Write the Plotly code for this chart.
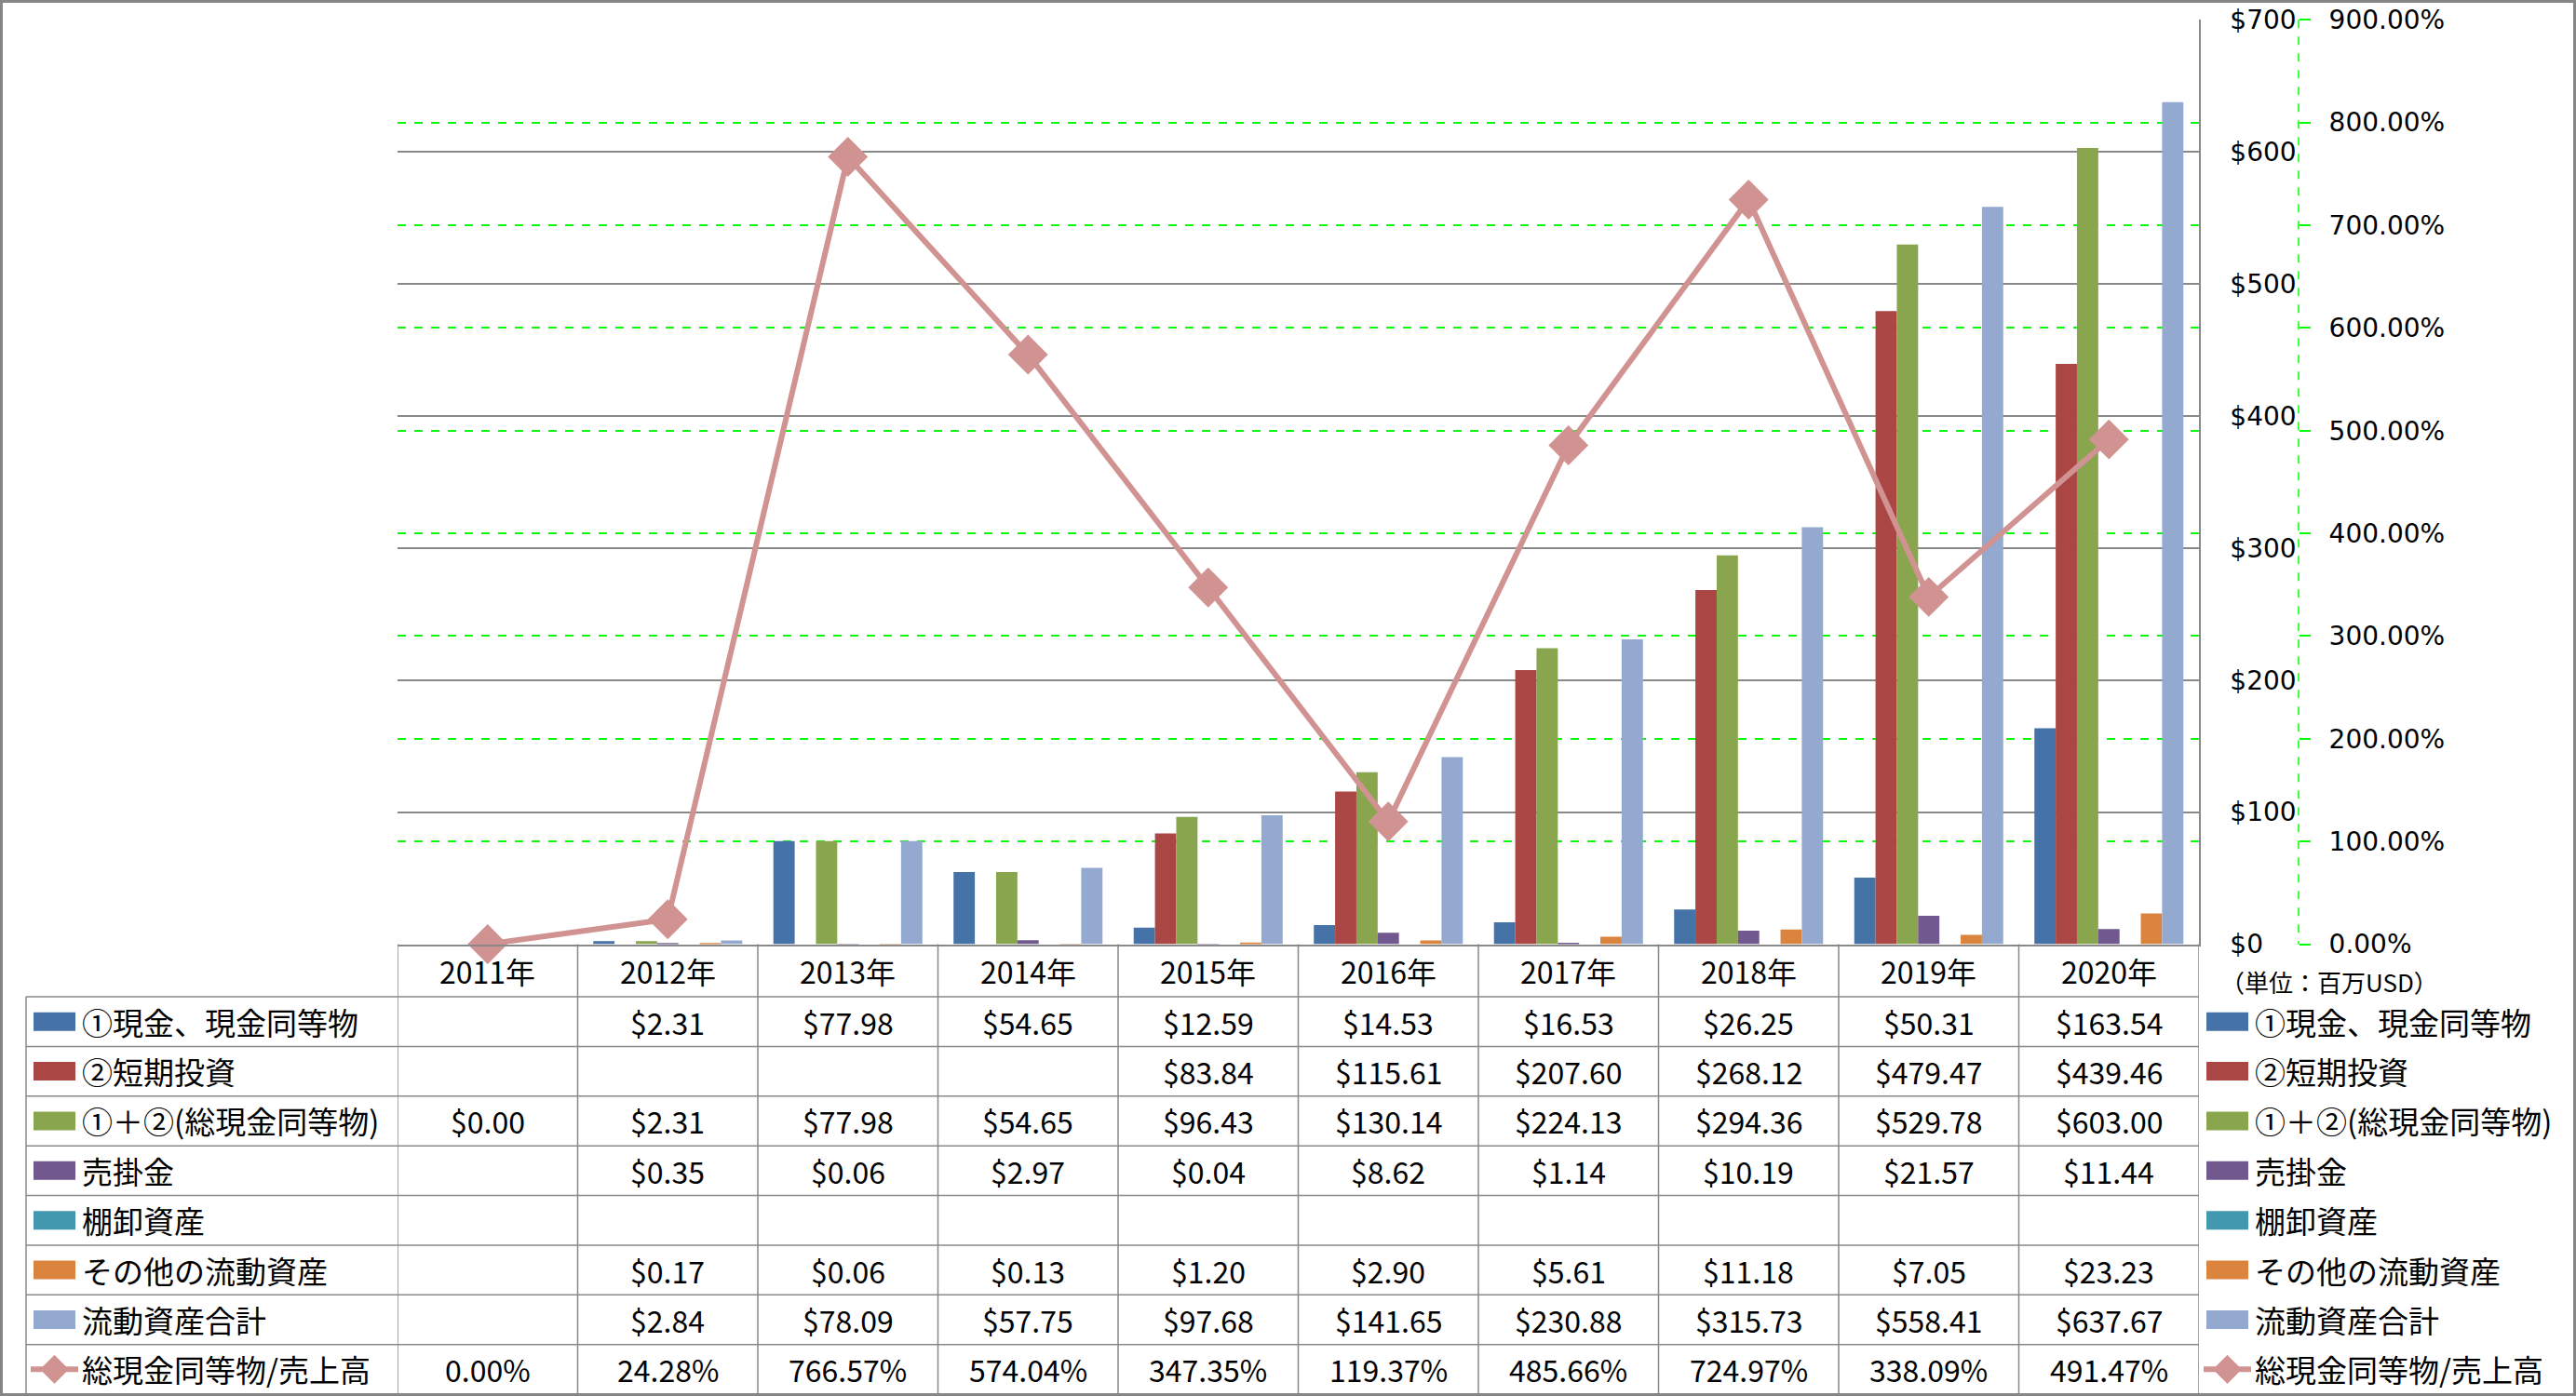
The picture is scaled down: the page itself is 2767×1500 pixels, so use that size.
import plotly.graph_objects as go

W, H = 2767, 1500

# ---------------- data ----------------
years = ["2011年", "2012年", "2013年", "2014年", "2015年",
         "2016年", "2017年", "2018年", "2019年", "2020年"]
cash = [None, 2.31, 77.98, 54.65, 12.59, 14.53, 16.53, 26.25, 50.31, 163.54]
short_inv = [None, None, None, None, 83.84, 115.61, 207.60, 268.12, 479.47, 439.46]
total_cash = [0.00, 2.31, 77.98, 54.65, 96.43, 130.14, 224.13, 294.36, 529.78, 603.00]
receivables = [None, 0.35, 0.06, 2.97, 0.04, 8.62, 1.14, 10.19, 21.57, 11.44]
inventory = [None, None, None, None, None, None, None, None, None, None]
other_cur = [None, 0.17, 0.06, 0.13, 1.20, 2.90, 5.61, 11.18, 7.05, 23.23]
total_cur = [None, 2.84, 78.09, 57.75, 97.68, 141.65, 230.88, 315.73, 558.41, 637.67]
ratio_pct = [0.00, 24.28, 766.57, 574.04, 347.35, 119.37, 485.66, 724.97, 338.09, 491.47]

names = ["①現金、現金同等物", "②短期投資", "①＋②(総現金同等物)", "売掛金",
         "棚卸資産", "その他の流動資産", "流動資産合計", "総現金同等物/売上高"]
colors = ["#4572A7", "#AA4643", "#89A54E", "#71588F",
          "#4198AF", "#DB843D", "#93A9CF", "#D19392"]
bar_values = [cash, short_inv, total_cash, receivables, inventory, other_cur, total_cur]

# ---------------- geometry (pixels) ----------------
PLOT_L, PLOT_R, PLOT_T, PLOT_B = 427, 2362, 21.3, 1014.5
TABLE_L = 28
HEADER_B = 1071
ROW_H = 53.375
AX2_X = 2469
GRAY = "#898989"
LINE_COLOR = colors[7]
CJK = "Noto Sans CJK JP"


def px(x):
    return x / W


def py(y):
    return 1 - y / H


fig = go.Figure()

for name, vals, col in zip(names[:7], bar_values, colors[:7]):
    fig.add_trace(go.Bar(x=years, y=vals, name=name, yaxis="y",
                         marker=dict(color=col, line=dict(width=0))))

fig.add_trace(go.Scatter(x=years, y=ratio_pct, name=names[7], yaxis="y2",
                         mode="lines+markers", cliponaxis=False,
                         line=dict(color=LINE_COLOR, width=6),
                         marker=dict(symbol="diamond", size=33, color=LINE_COLOR)))

shapes = []
annotations = []

# dashed axis line for the secondary (percent) axis
shapes.append(dict(type="line", xref="paper", yref="paper",
                   x0=px(AX2_X), x1=px(AX2_X), y0=py(PLOT_T), y1=py(PLOT_B),
                   line=dict(color="#00FF00", width=1.5, dash="dash")))

# ---------------- data table ----------------
n_rows = len(names)
row_tops = [HEADER_B + i * ROW_H for i in range(n_rows + 1)]
TABLE_B = row_tops[-1]

# horizontal lines
for yv in row_tops:
    shapes.append(dict(type="line", xref="paper", yref="paper",
                       x0=px(TABLE_L), x1=px(PLOT_R), y0=py(yv), y1=py(yv),
                       line=dict(color=GRAY, width=1.5)))
# left border of label column
shapes.append(dict(type="line", xref="paper", yref="paper",
                   x0=px(TABLE_L), x1=px(TABLE_L), y0=py(HEADER_B), y1=py(TABLE_B),
                   line=dict(color=GRAY, width=1.5)))
# column borders (category boundaries on the x axis)
for k in range(len(years) + 1):
    shapes.append(dict(type="line", xref="x", yref="paper",
                       x0=k - 0.5, x1=k - 0.5, y0=py(PLOT_B), y1=py(TABLE_B),
                       line=dict(color=GRAY, width=1.5)))

# header row (years)
for yr in years:
    annotations.append(dict(xref="x", yref="paper", x=yr, y=py((PLOT_B + HEADER_B) / 2),
                            text=yr, showarrow=False, xanchor="center", yanchor="middle",
                            font=dict(family=CJK, size=32, color="black")))


def fmt(i, v):
    if v is None:
        return ""
    if i == 7:
        return "%.2f%%" % v
    return "$%.2f" % v


all_rows = bar_values + [ratio_pct]


def add_key(x_left, yc, i):
    col = colors[i]
    if i < 7:
        shapes.append(dict(type="rect", xref="paper", yref="paper",
                           x0=px(x_left), x1=px(x_left + 45), y0=py(yc - 10), y1=py(yc + 10),
                           fillcolor=col, line=dict(width=0)))
    else:
        shapes.append(dict(type="line", xref="paper", yref="paper",
                           x0=px(x_left - 3), x1=px(x_left + 48), y0=py(yc), y1=py(yc),
                           line=dict(color=col, width=6)))
        cx = x_left + 22.5
        path = "M %f,%f L %f,%f L %f,%f L %f,%f Z" % (
            px(cx - 15), py(yc), px(cx), py(yc - 15), px(cx + 15), py(yc), px(cx), py(yc + 15))
        shapes.append(dict(type="path", xref="paper", yref="paper", path=path,
                           fillcolor=col, line=dict(color=col, width=1)))


for i, (name, vals) in enumerate(zip(names, all_rows)):
    yc = row_tops[i] + ROW_H / 2
    # left label in table
    add_key(36, yc, i)
    annotations.append(dict(xref="paper", yref="paper", x=px(86), y=py(yc), text=name,
                            showarrow=False, xanchor="left", yanchor="middle",
                            font=dict(family=CJK, size=33, color="black")))
    # values
    for yr, v in zip(years, vals):
        t = fmt(i, v)
        if t:
            annotations.append(dict(xref="x", yref="paper", x=yr, y=py(yc), text=t,
                                    showarrow=False, xanchor="center", yanchor="middle",
                                    font=dict(family=CJK, size=32, color="black")))
    # right legend
    add_key(2370, yc, i)
    annotations.append(dict(xref="paper", yref="paper", x=px(2420), y=py(yc), text=name,
                            showarrow=False, xanchor="left", yanchor="middle",
                            font=dict(family=CJK, size=33, color="black")))

# unit note
annotations.append(dict(xref="paper", yref="paper", x=px(2383), y=py(1054),
                        text="（単位：百万USD）", showarrow=False,
                        xanchor="left", yanchor="middle",
                        font=dict(family=CJK, size=26, color="black")))

# outer frame
shapes.append(dict(type="rect", xref="paper", yref="paper",
                   x0=px(1.5), x1=px(W - 1.5), y0=py(1.5), y1=py(H - 1.5),
                   line=dict(color="#868686", width=3), fillcolor="rgba(0,0,0,0)"))

tickfont = dict(family="DejaVu Sans", size=28, color="black")

fig.update_layout(
    width=W, height=H,
    margin=dict(l=0, r=0, t=0, b=0, autoexpand=False),
    paper_bgcolor="white", plot_bgcolor="white",
    showlegend=False,
    barmode="group", bargap=0.173, bargroupgap=0,
    xaxis=dict(domain=[px(PLOT_L), px(PLOT_R)], type="category", automargin=False,
               range=[-0.5, len(years) - 0.5],
               showticklabels=False, ticks="", showgrid=False, zeroline=False,
               showline=True, linecolor=GRAY, linewidth=1.5),
    yaxis=dict(domain=[py(PLOT_B), py(PLOT_T)], range=[0, 700], dtick=100,
               tickprefix="$", tickformat="d", side="right", automargin=False,
               showline=True, linecolor=GRAY, linewidth=1.5,
               showgrid=True, gridcolor=GRAY, gridwidth=1.5, zeroline=False,
               ticks="", ticklabelstandoff=26, tickfont=tickfont),
    yaxis2=dict(overlaying="y", anchor="free", position=px(AX2_X), side="right",
                range=[0, 900], dtick=100, tickformat=".2f", ticksuffix="%",
                automargin=False,
                showgrid=True, gridcolor="#00FF00", griddash="dash", gridwidth=1.5,
                zeroline=False, showline=False,
                ticks="outside", ticklen=12, tickcolor="#00FF00", tickwidth=1.5,
                ticklabelstandoff=14, tickfont=tickfont),
    shapes=shapes,
    annotations=annotations,
)

fig.write_html("out.html",
               config={"displayModeBar": False},
               post_script="document.body.style.margin='0';document.body.style.overflow='hidden';")
